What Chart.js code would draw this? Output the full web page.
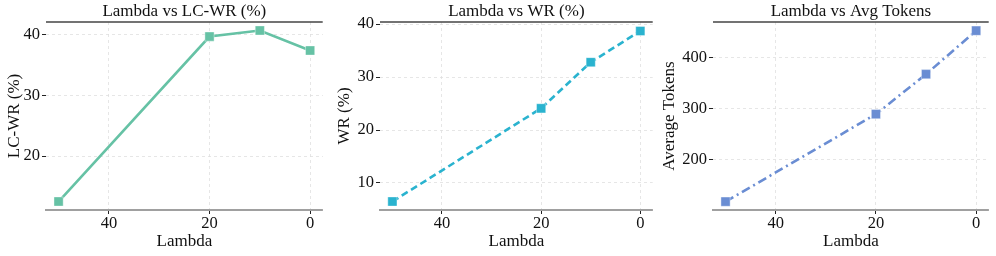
<!DOCTYPE html>
<html>
<head>
<meta charset="utf-8">
<script src="https://cdn.jsdelivr.net/npm/chart.js@4.4.1/dist/chart.umd.min.js"></script>
<style>
  html, body { margin: 0; padding: 0; background: #fff; }
  #wrap { position: relative; width: 996px; height: 256px; }
  .panel { position: absolute; top: 0; height: 256px; }
</style>
</head>
<body>
<div id="wrap">
  <div class="panel" style="left:0px;width:330px"><canvas id="c1"></canvas></div>
  <div class="panel" style="left:330px;width:330px"><canvas id="c2"></canvas></div>
  <div class="panel" style="left:655px;width:341px"><canvas id="c3"></canvas></div>
</div>
<script>
const lambdas = [50, 20, 10, 0];
const lcWinRate = [12.5, 39.7, 40.7, 37.4];
const winRate = [6.5, 24.1, 32.8, 38.7];
const avgTokens = [118, 289, 367, 452];

const xTicks = [40, 20, 0];
const lcTicks = [20, 30, 40];
const wrTicks = [10, 20, 30, 40];
const tokTicks = [200, 300, 400];

const FONT = "'Liberation Serif', 'Times New Roman', serif";

// top spine + panel title drawn above the plot area
const frameTitle = {
  id: "frameTitle",
  afterDraw: function (chart) {
    const a = chart.chartArea;
    const ctx = chart.ctx;
    ctx.save();
    ctx.strokeStyle = "#444";
    ctx.lineWidth = 1.5;
    ctx.beginPath();
    ctx.moveTo(a.left, a.top);
    ctx.lineTo(a.right, a.top);
    ctx.stroke();
    ctx.fillStyle = "#111";
    ctx.font = "17px " + FONT;
    ctx.textAlign = "center";
    ctx.textBaseline = "middle";
    ctx.fillText(chart.options.panelTitle, (a.left + a.right) / 2, 12);
    ctx.restore();
  },
};

function makePanel(id, opts) {
  const points = lambdas.map(function (l, i) {
    return { x: l, y: opts.values[i] };
  });
  return new Chart(document.getElementById(id), {
    type: "line",
    data: {
      datasets: [{
        data: points,
        borderColor: opts.color,
        backgroundColor: opts.color,
        borderWidth: 2.6,
        borderDash: opts.dash,
        pointStyle: "rect",
        pointRadius: 6.5,
        pointHoverRadius: 6.5,
        pointBackgroundColor: opts.color,
        pointBorderColor: "rgba(255,255,255,0.5)",
        pointBorderWidth: 0.8,
        tension: 0,
      }],
    },
    options: {
      panelTitle: opts.title,
      responsive: true,
      maintainAspectRatio: false,
      animation: false,
      events: [],
      layout: { padding: { left: 0, right: opts.padRight, top: 22, bottom: 0 } },
      plugins: { legend: { display: false }, tooltip: { enabled: false } },
      scales: {
        x: {
          type: "linear",
          reverse: true,
          min: -2.5,
          max: 52.5,
          afterBuildTicks: function (scale) {
            scale.ticks = xTicks.map(function (v) { return { value: v }; });
          },
          afterFit: function (scale) { scale.height = 46; },
          grid: { color: "#e0e0e0", lineWidth: 0.8, tickLength: 4, tickColor: "#222", tickWidth: 1 },
          border: { display: true, color: "#a0a0a0", width: 2, dash: [3, 3] },
          ticks: { color: "#111", font: { family: FONT, size: 16.5 }, padding: 0, maxRotation: 0 },
          title: { display: true, text: "Lambda", color: "#111", font: { family: FONT, size: 17 }, padding: { top: 0, bottom: 4 } },
        },
        y: {
          type: "linear",
          min: opts.yMin,
          max: opts.yMax,
          afterBuildTicks: function (scale) {
            scale.ticks = opts.ticks.map(function (v) { return { value: v }; });
          },
          afterFit: function (scale) { scale.width = opts.yWidth; },
          grid: { color: "#e0e0e0", lineWidth: 0.8, tickLength: 4, tickColor: "#222", tickWidth: 1 },
          border: { display: false, dash: [3, 3] },
          ticks: { color: "#111", font: { family: FONT, size: 16.5 }, padding: 2 },
          title: { display: true, text: opts.yLabel, color: "#111", font: { family: FONT, size: 17 }, padding: { top: 4, bottom: 0 } },
        },
      },
    },
    plugins: [frameTitle],
  });
}

makePanel("c1", {
  title: "Lambda vs LC-WR (%)",
  yLabel: "LC-WR (%)",
  values: lcWinRate,
  ticks: lcTicks,
  yMin: 11.1, yMax: 42.1,
  color: "#66c2a5",
  dash: [],
  yWidth: 46,
  padRight: 5,
});

makePanel("c2", {
  title: "Lambda vs WR (%)",
  yLabel: "WR (%)",
  values: winRate,
  ticks: wrTicks,
  yMin: 4.9, yMax: 40.4,
  color: "#2ab3cf",
  dash: [7, 4],
  yWidth: 50,
  padRight: 5,
});

makePanel("c3", {
  title: "Lambda vs Avg Tokens",
  yLabel: "Average Tokens",
  values: avgTokens,
  ticks: tokTicks,
  yMin: 101.7, yMax: 469,
  color: "#6a8dd3",
  dash: [9, 4, 2, 4],
  yWidth: 58,
  padRight: 6,
});
</script>
</body>
</html>
